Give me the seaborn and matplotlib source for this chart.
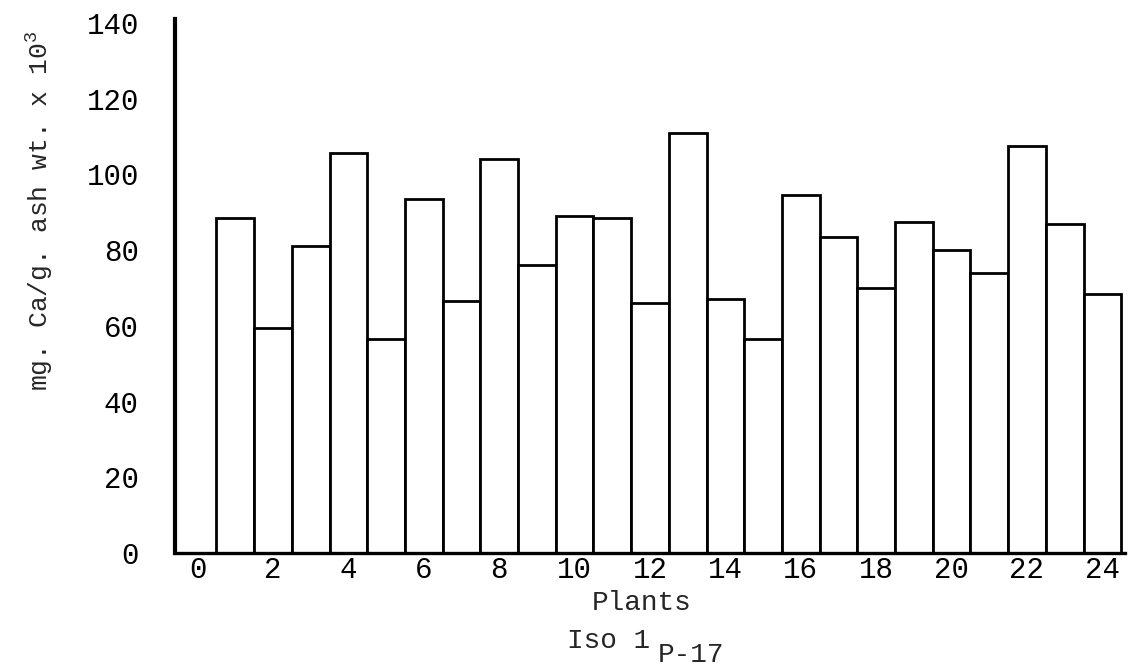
import matplotlib
matplotlib.use("Agg")
import matplotlib.pyplot as plt
import seaborn as sns
import pandas as pd

plants = list(range(1, 25))
ca_values = [88.5, 59.5, 81, 105.5, 56.5, 93.5, 66.5, 104, 76, 89, 88.5, 66,
             111, 67, 56.5, 94.5, 83.5, 70, 87.5, 80, 74, 107.5, 87, 68.5]
y_ticks = [0, 20, 40, 60, 80, 100, 120, 140]
x_ticks = [0, 2, 4, 6, 8, 10, 12, 14, 16, 18, 20, 22, 24]

df = pd.DataFrame({"plant": plants, "ca": ca_values})

sns.set_style("white")
plt.rcParams["font.family"] = ["Liberation Mono", "DejaVu Sans Mono"]
plt.rcParams["mathtext.default"] = "regular"
plt.rcParams["mathtext.fontset"] = "custom"
plt.rcParams["mathtext.rm"] = "Liberation Mono"

fig = plt.figure(figsize=(11.3, 6.71), dpi=100)
ax = fig.add_axes([175 / 1130, 1 - 553 / 671, 950 / 1130, (553 - 19) / 671])

sns.barplot(data=df, x="plant", y="ca", native_scale=True, width=1,
            color="white", edgecolor="black", linewidth=2.0, ax=ax,
            errorbar=None)

ax.set_xlim(-0.6, 24.6)
ax.set_ylim(0, 141)
ax.set_xticks(x_ticks)
ax.set_xticklabels([str(t) for t in x_ticks])
ax.set_yticks(y_ticks)
ax.set_yticklabels([str(t) for t in y_ticks])

for s in ["top", "right"]:
    ax.spines[s].set_visible(False)
ax.spines["left"].set_linewidth(3)
ax.spines["bottom"].set_linewidth(2.4)
ax.spines["left"].set_color("black")
ax.spines["bottom"].set_color("black")

ax.tick_params(axis="y", direction="in", length=8, width=2.5, pad=26,
               labelsize=21, colors="black")
ax.tick_params(axis="x", length=0, pad=2, labelsize=21, colors="black")
ax.set_xlabel("")
ax.set_ylabel("mg. Ca/g. ash wt. x 10$^3$", fontsize=19, va="center")
ax.yaxis.set_label_coords((40 - 175) / 950, (553 - 211) / 534)

fig.text(642 / 1130, 1 - 610 / 671, "Plants", ha="center", va="baseline",
         fontsize=20)
fig.text(567 / 1130, 1 - 648 / 671, "Iso 1", ha="left", va="baseline",
         fontsize=20)
fig.text(658 / 1130, 1 - 662 / 671, "P-17", ha="left", va="baseline",
         fontsize=20)

fig.savefig("out.png", dpi=100, facecolor="white")
